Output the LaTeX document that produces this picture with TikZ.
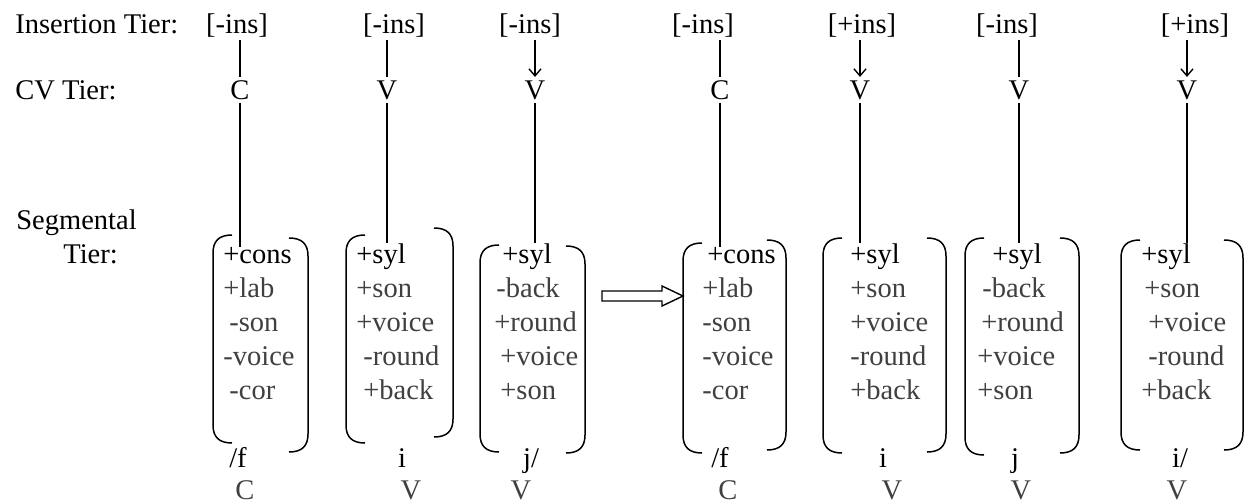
\documentclass[tikz,border=0pt]{standalone}
\usepackage{fontspec}
\setmainfont{Liberation Serif}
\usetikzlibrary{arrows.meta}
\definecolor{featgray}{RGB}{64,64,64}
% parentheses round a feature column: x, top, bottom
\def\lparen#1#2#3{
  \draw[paren] (#1+19,#2) .. controls (#1+6,#2) and (#1,#2+6) .. (#1,#2+18)
    -- (#1,#3-18) .. controls (#1,#3-6) and (#1+6,#3) .. (#1+19,#3);
}
\def\rparen#1#2#3{
  \draw[paren] (#1-19,#2) .. controls (#1-6,#2) and (#1,#2+6) .. (#1,#2+18)
    -- (#1,#3-18) .. controls (#1,#3-6) and (#1-6,#3) .. (#1-19,#3);
}
% one feature column: name, x, list of shift/feature
\def\feats#1#2#3{
  \foreach \dx/\t [count=\k] in {#3} {
    \ifnum\k=1 \def\fc{black}\else\def\fc{featgray}\fi
    \node[feat, text=\fc] (#1-\k) at (#2+\dx, {263+34*(\k-1)}) {\t};
  }
}

\begin{document}
\begin{tikzpicture}[x=0.5pt, y=-0.5pt,
  every node/.style={font=\fontsize{14.25}{17}\selectfont},
  tier/.style={anchor=base west, inner sep=0},
  ins/.style={anchor=base, inner sep=1.5pt},
  cv/.style={anchor=base, inner sep=1.5pt},
  feat/.style={anchor=base west, inner sep=0},
  seg/.style={anchor=base, inner sep=0},
  link/.style={line width=0.7pt},
  paren/.style={line width=0.75pt},
  arr/.style={link, -{Straight Barb[length=3.5pt,width=6pt]}}]
\useasboundingbox (0,0) rectangle (1250,504);

% tier names
\node[tier] (tins) at (15,33) {Insertion Tier:};
\node[tier] (tcv) at (15,99) {CV Tier:};
\node[tier] (tseg) at (16,229) {Segmental};
\node[tier] (tseg2) at (63,263) {Tier:};

% insertion tier
\node[ins] (i1) at (237,33) {[-ins]};
\node[ins] (i2) at (394,33) {[-ins]};
\node[ins] (i3) at (530,33) {[-ins]};
\node[ins] (i4) at (703,33) {[-ins]};
\node[ins] (i5) at (862,33) {[+ins]};
\node[ins] (i6) at (1007,33) {[-ins]};
\node[ins] (i7) at (1195,33) {[+ins]};

% CV tier
\node[cv] (c1) at (240,99) {C};
\node[cv] (c2) at (387,99) {V};
\node[cv] (c3) at (535,99) {V};
\node[cv] (c4) at (720,99) {C};
\node[cv] (c5) at (860,99) {V};
\node[cv] (c6) at (1019,99) {V};
\node[cv] (c7) at (1187,99) {V};

% segmental tier
\feats{f1}{223}{0/+cons, 0/+lab, 6/-son, 0/-voice, 6/-cor}
\feats{f2}{356}{0/+syl, 0/+son, 0/+voice, 7/-round, 7/+back}
\feats{f3}{500}{2/+syl, -4/-back, -6/+round, 0/+voice, 0/+son}
\feats{f4}{702}{5/+cons, 0/+lab, 0/-son, 0/-voice, 0/-cor}
\feats{f5}{850}{0/+syl, 0/+son, 0/+voice, 0/-round, 0/+back}
\feats{f6}{977}{15/+syl, 5/-back, 4/+round, 0/+voice, 0/+son}
\feats{f7}{1141}{0/+syl, 3/+son, 7/+voice, 7/-round, 0/+back}

\lparen{213}{235}{443} \rparen{308}{238}{452}
\lparen{346}{235}{443} \rparen{453}{228}{437}
\lparen{480}{245}{452} \rparen{585}{246}{453}
\lparen{683}{243}{453} \rparen{786}{240}{450}
\lparen{823}{238}{453} \rparen{946}{238}{452}
\lparen{965}{238}{455} \rparen{1079}{238}{453}
\lparen{1121}{240}{450} \rparen{1243}{240}{450}

% segments and their CV slots
\node[seg] (s1) at (238,467) {/f};
\node[seg] (s2) at (402,467) {i};
\node[seg] (s3) at (531,467) {j/};
\node[seg] (s4) at (720,467) {/f};
\node[seg] (s5) at (883,467) {i};
\node[seg] (s6) at (1015,467) {j};
\node[seg] (s7) at (1180,467) {i/};
\node[seg, text=featgray] (v1) at (245,499) {C};
\node[seg, text=featgray] (v2) at (411,499) {V};
\node[seg, text=featgray] (v3) at (521,499) {V};
\node[seg, text=featgray] (v4) at (728,499) {C};
\node[seg, text=featgray] (v5) at (892,499) {V};
\node[seg, text=featgray] (v6) at (1021,499) {V};
\node[seg, text=featgray] (v7) at (1177,499) {V};

% association lines
\draw[link] (c1 |- i1.south) -- (c1.north);
\draw[link] (c2 |- i2.south) -- (c2.north);
\draw[arr] (c3 |- i3.south) -- (c3.north);
\draw[link] (c4 |- i4.south) -- (c4.north);
\draw[arr] (c5 |- i5.south) -- (c5.north);
\draw[link] (c6 |- i6.south) -- (c6.north);
\draw[arr] (c7 |- i7.south) -- (c7.north);
\foreach \n in {1,...,7}
  \draw[link] (c\n.south) -- (c\n |- f\n-1.north);

% rule arrow
\draw[line width=0.7pt] (602,291) -- (662,291) -- (662,286) -- (683,296)
  -- (662,306) -- (662,301) -- (602,301) -- cycle;
\end{tikzpicture}
\end{document}
